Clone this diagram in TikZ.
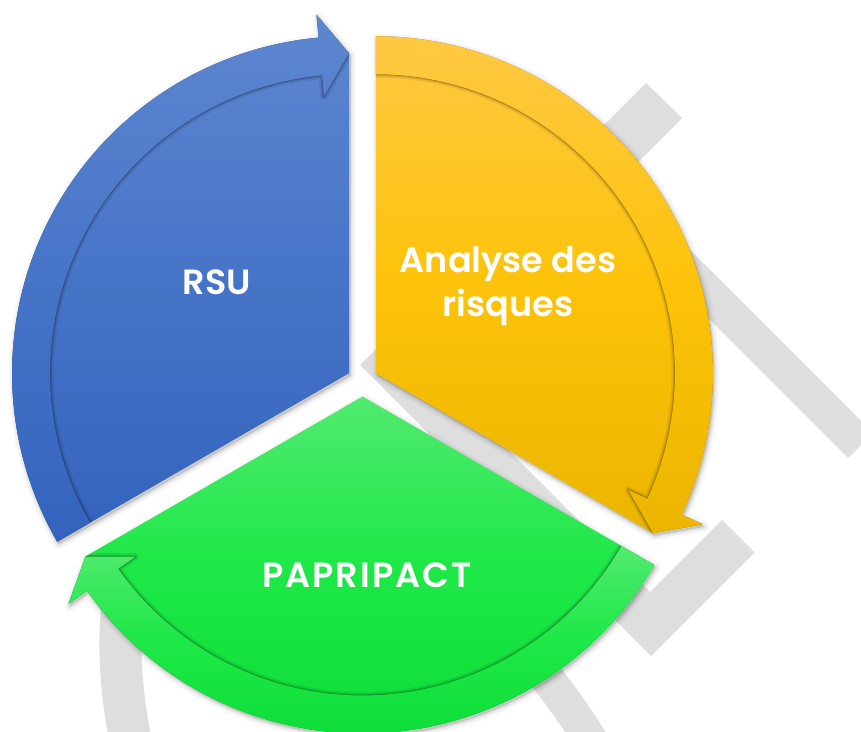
\documentclass[tikz,border=0pt]{standalone}
\usepackage{fontspec}
\setmainfont{Poppins}[BoldFont={Poppins SemiBold}]
\definecolor{wm}{HTML}{DEDEDE}
\definecolor{blueT}{HTML}{5E87D0}
\definecolor{blueM}{HTML}{4674C7}
\definecolor{blueB}{HTML}{3363BD}
\definecolor{yelT}{HTML}{FFC843}
\definecolor{yelM}{HTML}{FDC30A}
\definecolor{yelB}{HTML}{EBB500}
\definecolor{grnT}{HTML}{52EA70}
\definecolor{grnM}{HTML}{1DE847}
\definecolor{grnB}{HTML}{0EDD38}
% silhouette of a sector: #1 start angle, #2 tip angle, #3 arrow base angle
\newcommand\silp[3]{(0,0) -- (#1:337) arc[start angle=#1, end angle=#3, radius=337] -- (#3:360) -- (#2:320) -- cycle}
% arrow band of a sector
\newcommand\bandp[3]{(#1:337) arc[start angle=#1, end angle=#3, radius=337] -- (#3:360) -- (#2:320) -- (#3:278) -- (#3:299) arc[start angle=#3, end angle=#1, radius=299] -- cycle}
\begin{document}
\begin{tikzpicture}[x=1pt,y=1pt,
  lbl/.style={text=white, font=\bfseries\fontsize{35}{44}\selectfont, align=center, inner sep=0pt},
  wmband/.style={fill=wm}]
\useasboundingbox (0,0) rectangle (861,731);
\clip (0,0) rectangle (861,731);
\fill[white] (0,0) rectangle (861,731);

% ---- watermark (pixel coordinates, y downwards)
\begin{scope}[shift={(0,731)}, yscale=-1]
  \fill[wmband] (646,83) -- (682,118) -- (420,380) -- (384.5,344.5) -- cycle;
  \fill[wmband] (595,205) -- (620,180) -- (873,433) -- (848,458) -- cycle;
  \fill[wmband] (360,365) -- (391.5,333.5) -- (650,592) -- (722,520) -- (754.5,552.5) -- (651,656) -- cycle;
  \draw[wm, line width=42] (124,590) .. controls (117,640) and (120,700) .. (136,765);
  \draw[wm, line width=34] (510,630) .. controls (540,670) and (575,710) .. (605,765);
\end{scope}

% ---- blue sector
\begin{scope}[shift={(349.1,357.75)}]
  \foreach \w/\o in {10/0.03,6/0.04,3/0.06}{
    \path[fill=black, draw=black, line width=\w, line join=round, opacity=\o, shift={(1.5,-2.5)}] \silp{210}{90}{95.2};}
  \begin{scope}
    \clip \silp{210}{90}{95.2};
    \shade[top color=blueT, bottom color=blueB, middle color=blueM] (-345,-168) rectangle (5,361);
    \foreach \w/\o in {7/0.07,3.5/0.12,1.4/0.22}{
      \draw[black, opacity=\o, line width=\w, line join=round] \bandp{210}{90}{95.2};}
    \begin{scope}
      \clip \bandp{210}{90}{95.2};
      \shade[top color=blueT, bottom color=blueB, middle color=blueM] (-345,-168) rectangle (5,361);
    \end{scope}
  \end{scope}
\end{scope}

% ---- yellow sector
\begin{scope}[shift={(375.9,357.75)}]
  \foreach \w/\o in {10/0.03,6/0.04,3/0.06}{
    \path[fill=black, draw=black, line width=\w, line join=round, opacity=\o, shift={(1.5,-2.5)}] \silp{90}{-30}{-24.8};}
  \begin{scope}
    \clip \silp{90}{-30}{-24.8};
    \shade[top color=yelT, bottom color=yelB, middle color=yelM] (-5,-161) rectangle (365,339);
    \foreach \w/\o in {7/0.07,3.5/0.12,1.4/0.22}{
      \draw[black, opacity=\o, line width=\w, line join=round] \bandp{90}{-30}{-24.8};}
    \begin{scope}
      \clip \bandp{90}{-30}{-24.8};
      \shade[top color=yelT, bottom color=yelB, middle color=yelM] (-5,-161) rectangle (365,339);
    \end{scope}
  \end{scope}
\end{scope}

% ---- green sector
\begin{scope}[shift={(362.5,334.5)}]
  \foreach \w/\o in {10/0.03,6/0.04,3/0.06}{
    \path[fill=black, draw=black, line width=\w, line join=round, opacity=\o, shift={(1.5,-2.5)}] \silp{330}{210}{215.2};}
  \begin{scope}
    \clip \silp{330}{210}{215.2};
    \shade[top color=grnT, bottom color=grnB, middle color=grnM] (-365,-338) rectangle (340,2);
    \foreach \w/\o in {7/0.07,3.5/0.12,1.4/0.22}{
      \draw[black, opacity=\o, line width=\w, line join=round] \bandp{330}{210}{215.2};}
    \begin{scope}
      \clip \bandp{330}{210}{215.2};
      \shade[top color=grnT, bottom color=grnB, middle color=grnM] (-365,-338) rectangle (340,-149);
    \end{scope}
  \end{scope}
\end{scope}

% ---- labels
\node[lbl] (rsu) at (217,448.5) {RSU};
\node[lbl] (ana) at (508,445) {Analyse des\\risques};
\node[lbl] (pap) at (367,155.5) {\addfontfeature{LetterSpace=6}PAPRIPACT};
\end{tikzpicture}
\end{document}
